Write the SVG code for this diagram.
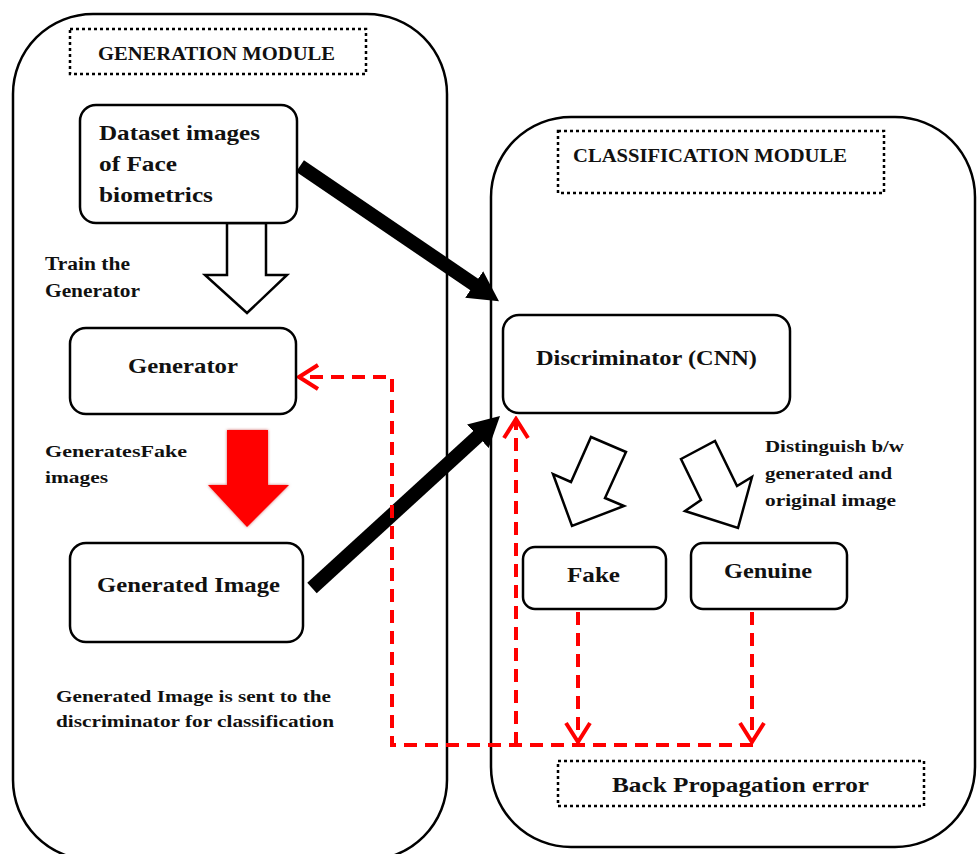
<svg xmlns="http://www.w3.org/2000/svg" width="978" height="854" viewBox="0 0 978 854">
<style>
  .module{fill:none;stroke:#000;stroke-width:2.5}
  .title{fill:none;stroke:#000;stroke-width:2.5;stroke-dasharray:3 3}
  .box{fill:#fff;stroke:#000;stroke-width:2.5}
  .t{font-family:"Liberation Serif","Times New Roman",serif;font-weight:bold;fill:#111}
  .red{fill:none;stroke:#ff0000;stroke-width:4;stroke-dasharray:13 8}
  .blk{fill:none;stroke:#000;stroke-width:14}
</style>
<defs>
  <marker id="chev" markerUnits="userSpaceOnUse" viewBox="0 0 24 28" markerWidth="24" markerHeight="28" refX="21" refY="14" orient="auto">
    <path d="M2,2 L21,14 L2,26" fill="none" stroke="#ff0000" stroke-width="4" stroke-dasharray="none"/>
  </marker>
  <marker id="tri" markerUnits="userSpaceOnUse" viewBox="0 0 30 32" markerWidth="30" markerHeight="32" refX="1" refY="16" orient="auto">
    <path d="M0,0 L30,16 L0,32 z" fill="#000"/>
  </marker>
  <filter id="soft" x="-20%" y="-20%" width="140%" height="140%">
    <feGaussianBlur in="SourceAlpha" stdDeviation="1.5" result="b"/>
    <feFlood flood-color="#b00000" flood-opacity="0.6"/>
    <feComposite in2="b" operator="in" result="s"/>
    <feMerge><feMergeNode in="s"/><feMergeNode in="SourceGraphic"/></feMerge>
  </filter>
</defs>

<g id="generation-module">
  <rect class="module" x="13" y="14" width="434" height="846" rx="80"/>
  <rect class="title" x="70" y="29" width="296" height="45"/>
  <text class="t" x="98" y="60" font-size="19" textLength="237" lengthAdjust="spacingAndGlyphs">GENERATION MODULE</text>
</g>

<g id="classification-module">
  <rect class="module" x="491" y="117" width="484" height="730" rx="80"/>
  <rect class="title" x="558" y="131" width="326" height="62"/>
  <text class="t" x="573" y="162" font-size="19" textLength="274" lengthAdjust="spacingAndGlyphs">CLASSIFICATION MODULE</text>
</g>

<g id="connectors">
  <!-- hollow down arrow: dataset -> generator -->
  <polygon points="227,223 266,223 266,275 287,275 247,313 205,275 227,275" fill="#fff" stroke="#000" stroke-width="2.5"/>
  <!-- red block arrow: generator -> generated image -->
  <polygon points="227,430 268,430 268,485 289,485 247,527 208,485 227,485" fill="#ff0000" filter="url(#soft)"/>
  <!-- black thick arrows -->
  <line class="blk" x1="300" y1="166" x2="475" y2="285" marker-end="url(#tri)"/>
  <line class="blk" x1="312" y1="588" x2="478.6" y2="435.6" marker-end="url(#tri)"/>
  <!-- hollow diagonal arrows -->
  <polygon points="591,437 626,452 605,498 624,506 572,526 553,474 571,482" fill="#fff" stroke="#000" stroke-width="2.5" stroke-linejoin="miter"/>
  <polygon points="681,459 715,441 737,486 752,477 738,528 685,511 701,500" fill="#fff" stroke="#000" stroke-width="2.5" stroke-linejoin="miter"/>
  <!-- red dashed back propagation -->
  <path class="red" d="M753,745 H392 V377 H299" marker-end="url(#chev)"/>
  <path class="red" d="M516,745 V419" marker-end="url(#chev)"/>
  <path class="red" d="M578,612 V742" marker-end="url(#chev)"/>
  <path class="red" d="M752,612 V742" marker-end="url(#chev)"/>
</g>

<g id="dataset">
  <rect class="box" x="80" y="105" width="217" height="118" rx="16"/>
  <text class="t" x="99" y="140" font-size="21" textLength="161" lengthAdjust="spacingAndGlyphs">Dataset images</text>
  <text class="t" x="99" y="171" font-size="21" textLength="78" lengthAdjust="spacingAndGlyphs">of Face</text>
  <text class="t" x="99" y="202" font-size="21" textLength="114" lengthAdjust="spacingAndGlyphs">biometrics</text>
</g>

<g id="train-label">
  <text class="t" x="45" y="270" font-size="18" textLength="85" lengthAdjust="spacingAndGlyphs">Train the</text>
  <text class="t" x="45" y="297" font-size="18" textLength="95" lengthAdjust="spacingAndGlyphs">Generator</text>
</g>

<g id="generator">
  <rect class="box" x="70" y="328" width="226" height="86" rx="16"/>
  <text class="t" x="128" y="373" font-size="21" textLength="110" lengthAdjust="spacingAndGlyphs">Generator</text>
</g>

<g id="fake-label">
  <text class="t" x="45" y="457" font-size="17" textLength="142" lengthAdjust="spacingAndGlyphs">GeneratesFake</text>
  <text class="t" x="45" y="483" font-size="17" textLength="63" lengthAdjust="spacingAndGlyphs">images</text>
</g>

<g id="generated-image">
  <rect class="box" x="70" y="543" width="233" height="99" rx="16"/>
  <text class="t" x="97" y="592" font-size="21" textLength="183" lengthAdjust="spacingAndGlyphs">Generated Image</text>
</g>

<g id="sent-label">
  <text class="t" x="56" y="702" font-size="17" textLength="275" lengthAdjust="spacingAndGlyphs">Generated Image is sent to the</text>
  <text class="t" x="56" y="727" font-size="17" textLength="278" lengthAdjust="spacingAndGlyphs">discriminator for classification</text>
</g>

<g id="discriminator">
  <rect class="box" x="503" y="315" width="287" height="98" rx="16"/>
  <text class="t" x="536" y="365" font-size="21" textLength="221" lengthAdjust="spacingAndGlyphs">Discriminator (CNN)</text>
</g>

<g id="distinguish-label">
  <text class="t" x="765" y="452" font-size="17" textLength="139" lengthAdjust="spacingAndGlyphs">Distinguish b/w</text>
  <text class="t" x="765" y="479" font-size="17" textLength="127" lengthAdjust="spacingAndGlyphs">generated and</text>
  <text class="t" x="765" y="506" font-size="17" textLength="131" lengthAdjust="spacingAndGlyphs">original image</text>
</g>

<g id="fake">
  <rect class="box" x="523" y="547" width="143" height="62" rx="12"/>
  <text class="t" x="567" y="582" font-size="21" textLength="53" lengthAdjust="spacingAndGlyphs">Fake</text>
</g>

<g id="genuine">
  <rect class="box" x="691" y="543" width="156" height="66" rx="12"/>
  <text class="t" x="724" y="578" font-size="21" textLength="88" lengthAdjust="spacingAndGlyphs">Genuine</text>
</g>

<g id="back-propagation">
  <rect class="title" x="558" y="761" width="366" height="45"/>
  <text class="t" x="612" y="792" font-size="21" textLength="257" lengthAdjust="spacingAndGlyphs">Back Propagation error</text>
</g>
</svg>
